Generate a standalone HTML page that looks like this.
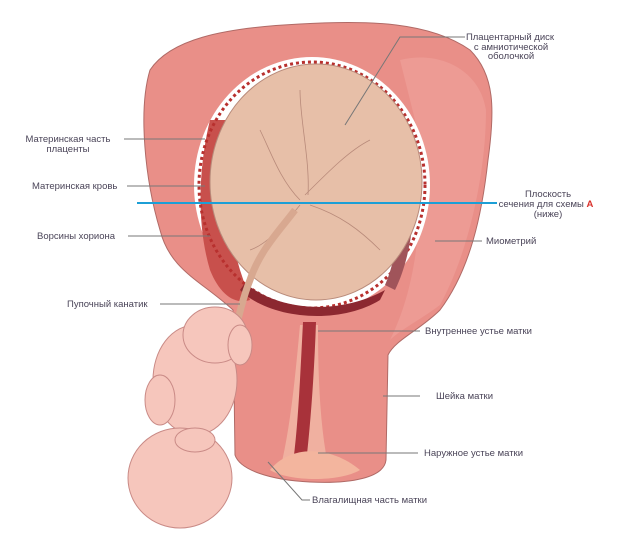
<!DOCTYPE html>
<html><head><meta charset="utf-8"><style>
html,body{margin:0;padding:0;background:#fff;}
svg{display:block;}
text{font-family:"Liberation Sans",sans-serif;font-size:9.5px;fill:#4a4458;}
</style></head><body>
<svg width="620" height="537" viewBox="0 0 620 537" xmlns="http://www.w3.org/2000/svg">
<!-- uterus body -->
<path d="M150,70 C170,40 220,28 300,24 C370,20 430,22 470,50 C495,75 495,110 488,160 C482,215 470,270 440,310 C420,330 395,340 388,355 L386,460 C384,478 350,484 310,482 C270,480 240,470 235,455 L233,310 C200,280 170,270 160,230 C145,180 138,110 150,70 Z" fill="#e98f88" stroke="#b06a66" stroke-width="1"/>
<!-- lighter right side -->
<path d="M400,60 C440,50 480,70 486,110 C486,170 470,250 440,305 C420,320 400,330 390,340 C420,280 425,200 415,120 Z" fill="#eea09a" opacity="0.7"/>
<!-- cervix shading -->
<path d="M300,325 C295,380 290,430 280,470 L330,475 C320,430 318,380 318,325 Z" fill="#f0b0a0"/>
<path d="M303,322 C300,380 298,430 292,470 L305,472 C310,430 314,380 316,322 Z" fill="#a8323a"/>
<path d="M270,470 C290,445 330,445 360,470 C340,482 290,482 270,470 Z" fill="#f3b59e"/>
<!-- inner cavity outer (white/placental band) -->
<ellipse cx="312" cy="185" rx="118" ry="128" fill="#fff"/>
<path d="M210,120 C200,160 195,220 210,270 C220,295 235,305 250,300 L240,270 C225,220 225,160 235,120 Z" fill="#c8504c"/>
<ellipse cx="312" cy="185" rx="113" ry="123" fill="none" stroke="#b8302e" stroke-width="3" stroke-dasharray="3 3"/>
<path d="M240,290 C270,320 340,325 380,300 L385,290 C340,315 280,312 245,283 Z" fill="#8c2830"/>
<path d="M400,110 C420,150 420,240 395,290 L385,285 C405,240 405,150 392,115 Z" fill="#a0545a"/>
<!-- placenta disc -->
<ellipse cx="316" cy="182" rx="106" ry="118" fill="#e7bfa8" stroke="#b88a7a" stroke-width="1"/>
<path d="M300,200 C280,180 270,150 260,130 M305,195 C330,170 350,150 370,140 M310,205 C340,215 360,230 380,250 M300,205 C280,230 265,245 250,250 M308,195 C310,160 300,120 300,90" stroke="#b88a7a" fill="none" stroke-width="0.8"/>
<!-- umbilical cord -->
<path d="M295,210 C280,230 260,250 250,280 C242,300 238,320 232,345" stroke="#d8a890" stroke-width="7" fill="none"/>
<!-- fetus -->
<g fill="#f6c6bc" stroke="#c98a86" stroke-width="1">
<ellipse cx="195" cy="380" rx="42" ry="55"/>
<ellipse cx="215" cy="335" rx="32" ry="28"/>
<ellipse cx="180" cy="478" rx="52" ry="50"/>
<ellipse cx="160" cy="400" rx="15" ry="25"/>
<ellipse cx="195" cy="440" rx="20" ry="12"/>
<ellipse cx="240" cy="345" rx="12" ry="20"/>
</g>
<!-- blue line -->
<line x1="137" y1="203" x2="497" y2="203" stroke="#1c9fd6" stroke-width="2"/>
<!-- leader lines -->
<g stroke="#777" stroke-width="1" fill="none">
<polyline points="465,37 400,37 345,125"/>
<line x1="124" y1="139" x2="205" y2="139"/>
<line x1="127" y1="186" x2="205" y2="186"/>
<line x1="128" y1="236" x2="210" y2="236"/>
<line x1="160" y1="304" x2="240" y2="304"/>
<line x1="435" y1="241" x2="482" y2="241"/>
<line x1="318" y1="331" x2="420" y2="331"/>
<line x1="383" y1="396" x2="420" y2="396"/>
<line x1="318" y1="453" x2="418" y2="453"/>
<polyline points="268,462 302,500 310,500"/>
</g>
<!-- labels -->
<g text-anchor="middle">
<text x="510" y="40">Плацентарный диск</text>
<text x="511" y="50">с амниотической</text>
<text x="511" y="59">оболочкой</text>
<text x="68" y="142">Материнская часть</text>
<text x="68" y="152">плаценты</text>
<text x="548" y="197">Плоскость</text>
<text x="546" y="207">сечения для схемы <tspan fill="#d9302a" font-weight="bold">A</tspan></text>
<text x="548" y="217">(ниже)</text>
</g>
<text x="32" y="189">Материнская кровь</text>
<text x="37" y="239">Ворсины хориона</text>
<text x="67" y="307">Пупочный канатик</text>
<text x="486" y="244">Миометрий</text>
<text x="425" y="334">Внутреннее устье матки</text>
<text x="436" y="399">Шейка матки</text>
<text x="424" y="456">Наружное устье матки</text>
<text x="312" y="503">Влагалищная часть матки</text>
</svg>
</body></html>
